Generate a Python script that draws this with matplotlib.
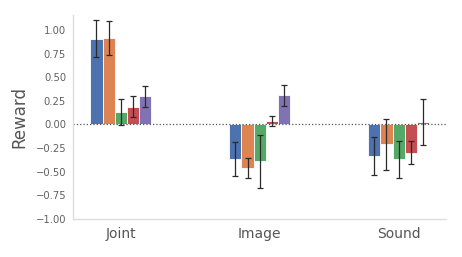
import numpy as np
import matplotlib.pyplot as plt

categories = ["Joint", "Image", "Sound"]
colors = ["#4C72B0", "#DD8452", "#55A868", "#C44E52", "#8172B3"]

# one list per series (bar colour), values for Joint / Image / Sound
means = [
    [0.91, -0.37, -0.33],
    [0.92, -0.46, -0.21],
    [0.13, -0.39, -0.37],
    [0.19, 0.04, -0.30],
    [0.30, 0.31, 0.025],
]
errors = [
    [0.20, 0.18, 0.20],
    [0.18, 0.11, 0.27],
    [0.14, 0.28, 0.20],
    [0.11, 0.055, 0.12],
    [0.11, 0.11, 0.24],
]

fig = plt.figure(figsize=(4.62, 2.57), dpi=100)
ax = fig.add_axes([0.158, 0.148, 0.807, 0.794])

x = np.arange(len(categories))
w = 0.088
for i in range(len(means)):
    ax.bar(x + (i - 2) * w, means[i], w, color=colors[i], edgecolor="white",
           linewidth=0.6, yerr=errors[i], capsize=2.2,
           error_kw=dict(ecolor="#2a2a2a", elinewidth=0.9, capthick=0.9))

ax.axhline(0, color="#555555", linestyle=":", linewidth=0.9)

ax.set_xlim(-0.345, 2.34)
ax.set_ylim(-1.0, 1.16)
yt = np.arange(-1.0, 1.01, 0.25)
ax.set_yticks(yt)
ax.set_yticklabels([f"{v:.2f}".replace("-", "\u2212") for v in yt])
ax.set_xticks(x)
ax.set_xticklabels(categories)
ax.tick_params(axis="y", length=0, labelsize=7.2, labelcolor="#606060", pad=5)
ax.tick_params(axis="x", length=0, labelsize=10, labelcolor="#555555", pad=6)
ax.set_ylabel("Reward", fontsize=12, color="#555555")
ax.yaxis.set_label_coords(-0.12, 0.5)

for s in ["top", "right"]:
    ax.spines[s].set_visible(False)
for s in ["left", "bottom"]:
    ax.spines[s].set_color("#dddddd")
    ax.spines[s].set_linewidth(1)

fig.savefig("out.png", dpi=100)
